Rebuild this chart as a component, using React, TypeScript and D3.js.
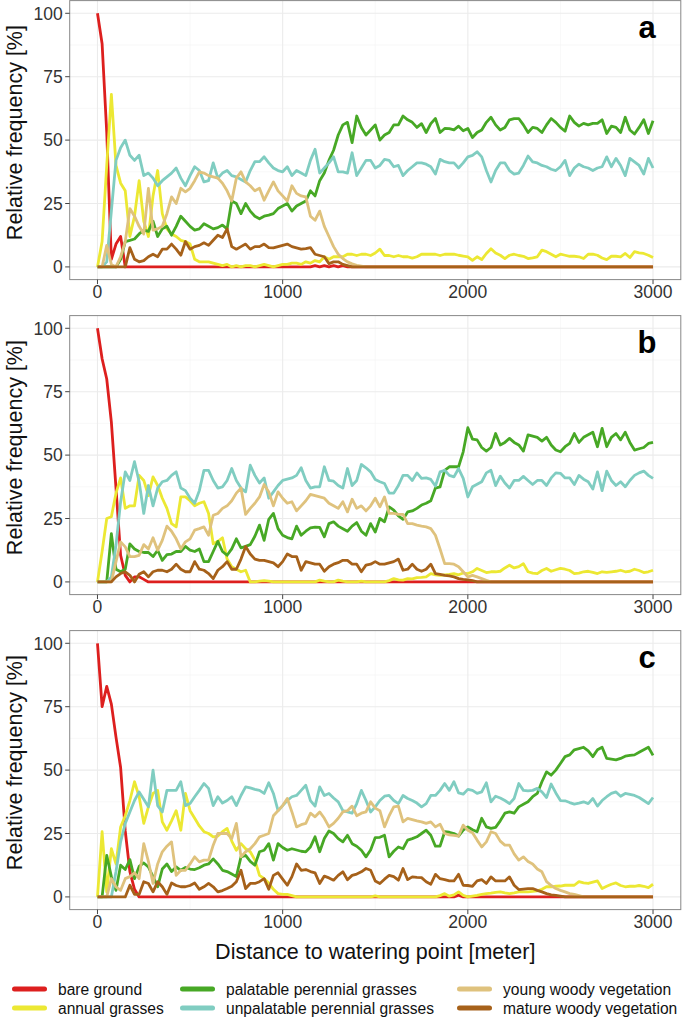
import React, { useEffect, useRef } from 'react';
import * as d3 from 'd3';

// distance classes every 25 m
const distances = d3.range(0, 3001, 25);

const seriesNames = [
  'bare ground',
  'annual grasses',
  'palatable perennial grasses',
  'unpalatable perennial grasses',
  'young woody vegetation',
  'mature woody vegetation',
];
const seriesColors = ['#dd1f1e', '#ece833', '#47a825', '#80cdc1', '#dfc27d', '#a6611a'];

const yTicks = [0, 25, 50, 75, 100];
const yMinor = [12.5, 37.5, 62.5, 87.5];
const xTicks = [0, 1000, 2000, 3000];
const xMinor = [500, 1500, 2500];
const panelLabels = ['a', 'b', 'c'];

// ---- panel a
const bareA = [
  100, 88, 53, 3, 9, 12, 0, 0, 0, 0,
  0, 0, 0, 0, 0, 0, 0, 0, 0, 0,
  0, 0, 0, 0, 0, 0, 0, 0, 0, 0,
  0, 0, 0, 0, 0, 0, 0, 0, 0, 0,
  0, 0, 0, 0, 0, 0, 0, 0.5, 0, 0.5,
  0, 0.5, 0, 0.5, 0, 0, 0, 0, 0, 0,
  0, 0, 0, 0, 0, 0, 0, 0, 0, 0,
  0, 0, 0, 0, 0, 0, 0, 0, 0, 0,
  0, 0, 0, 0, 0, 0, 0, 0, 0, 0,
  0, 0, 0, 0, 0, 0, 0, 0, 0, 0,
  0, 0, 0, 0, 0, 0, 0, 0, 0, 0,
  0, 0, 0, 0, 0, 0, 0, 0, 0, 0,
  0,
];
const annualA = [
  0, 10, 40, 68, 40, 33, 30, 12, 20, 34,
  18, 12, 28, 38, 21, 15, 13, 12, 10.5, 10,
  9, 3, 2, 2, 2, 1.5, 1, 0.5, 1, 0,
  0.5, 0, 0.5, 0.5, 0, 0.5, 1, 0.5, 0, 0.5,
  1, 1, 1.5, 1.5, 1, 2, 1.5, 2.5, 2, 4,
  3, 4, 4, 4, 5, 5, 4.5, 5, 5, 4.5,
  5.5, 7, 4.5, 4.5, 4, 4.5, 4, 4, 3.5, 4,
  5, 5, 5, 5, 4.5, 5, 5, 5, 4.6, 4.3,
  4, 2.6, 4, 2.9, 5.3, 7.2, 5.5, 4.6, 3.3, 4.6,
  5, 4.5, 4.2, 3.3, 3.6, 4, 6.6, 6, 5, 4,
  5, 4.6, 4.2, 4.2, 4, 3.3, 5, 5, 4.6, 3.5,
  2.9, 4.2, 4.2, 4, 5.3, 3.7, 6, 5.5, 5.3, 4.6,
  3.7,
];
const palatableA = [
  0, 0, 0, 0, 0, 3, 10, 10.5, 11, 13,
  14.5, 14, 18, 12, 15, 16, 12.5, 16, 20, 18,
  16, 14.5, 15, 17, 16, 15, 15.5, 16.5, 15, 26,
  25, 21, 25, 22, 20, 19, 20, 20.4, 21, 23,
  24, 25, 22, 24, 25, 26, 30, 28, 34, 37,
  42, 46, 52, 56, 57, 49, 59.5, 55, 52, 54,
  56, 50, 52, 53, 56, 56, 59.5, 58, 57, 55,
  56.5, 53, 56.5, 58.5, 53, 54.6, 54.5, 54, 55.5, 53.7,
  54.6, 51, 53, 54, 57, 59, 56, 54, 55, 58,
  58.5, 58.5, 56, 53, 55, 54.6, 53, 56, 58.5, 57,
  55, 53.5, 59.5, 57, 55.5, 56.6, 56, 56.6, 56.6, 58,
  52.6, 55.5, 55, 53, 59, 54, 52.4, 55, 58, 52.6,
  57.6,
];
const unpalatableA = [
  0, 0, 2, 22, 42, 47, 50, 44, 42, 44,
  36, 37, 35, 32, 34, 35.5, 37, 39, 35, 32,
  36, 39.5, 38, 33.5, 34, 41, 35, 37, 38, 36,
  35.5, 34.5, 33.5, 38, 41.5, 41.5, 43.4, 41, 39, 38,
  37.5, 39.5, 36, 38, 37, 36, 42, 46.4, 37, 39,
  41, 43.4, 37.5, 37.5, 37, 45, 36, 39, 42, 42,
  39, 40, 42.4, 42, 39.5, 40, 36, 38, 39.5, 41,
  41, 40.5, 39.5, 36.6, 42.4, 41.5, 41, 41, 39, 41,
  43.4, 44, 45.4, 43.4, 38, 33.5, 38, 41, 41, 38,
  36.6, 37, 40, 43.7, 41.4, 41, 40, 39.5, 38.5, 38,
  39.5, 42, 36, 39, 40.5, 39.5, 39, 38, 39, 39.5,
  43.4, 39.5, 42.8, 40, 36, 42.8, 41.4, 40, 36.6, 42.8,
  39,
];
const youngA = [
  0, 0, 8.5, 1, 0, 4, 10, 23, 20, 16,
  13, 31, 14.5, 15, 16, 21, 27.6, 25, 31, 29.6,
  31, 34, 37.5, 37, 36, 35.5, 35, 33, 30, 26,
  35, 37.5, 33.5, 32, 30, 31, 26.3, 30, 33.5, 30,
  28, 26, 32, 29, 28, 27.6, 20, 18.4, 22, 16,
  12, 8, 5, 3.3, 2, 1.2, 0.6, 0.3, 0, 0,
  0, 0, 0, 0, 0, 0, 0, 0, 0, 0,
  0, 0, 0, 0, 0, 0, 0, 0, 0, 0,
  0, 0, 0, 0, 0, 0, 0, 0, 0, 0,
  0, 0, 0, 0, 0, 0, 0, 0, 0, 0,
  0, 0, 0, 0, 0, 0, 0, 0, 0, 0,
  0, 0, 0, 0, 0, 0, 0, 0, 0, 0,
  0,
];
const matureA = [
  0, 0, 0, 0, 0, 0, 0, 7.6, 3, 2,
  2.5, 4, 5, 4, 7, 7, 9, 7, 4.6, 10,
  7, 8, 8.5, 9.5, 8.5, 10.5, 12.5, 11.6, 15, 8,
  7, 8, 9, 7, 8, 8, 9, 7.6, 7.5, 8,
  8.5, 9, 8, 7.5, 7, 7.2, 7.6, 5, 4.5, 4,
  1.3, 2, 2, 1, 0.5, 0, 0, 0, 0, 0,
  0, 0, 0, 0, 0, 0, 0, 0, 0, 0,
  0, 0, 0, 0, 0, 0, 0, 0, 0, 0,
  0, 0, 0, 0, 0, 0, 0, 0, 0, 0,
  0, 0, 0, 0, 0, 0, 0, 0, 0, 0,
  0, 0, 0, 0, 0, 0, 0, 0, 0, 0,
  0, 0, 0, 0, 0, 0, 0, 0, 0, 0,
  0,
];

// ---- panel b
const bareB = [
  100, 88, 80, 63, 37, 10.5, 2.6, 0, 2, 2,
  1, 0, 0, 0, 0, 0, 0, 0, 0, 0,
  0, 0, 0, 0, 0, 0, 0, 0, 0, 0,
  0, 0, 0, 0, 0, 0, 0, 0, 0, 0,
  0, 0, 0, 0, 0, 0, 0, 0, 0, 0,
  0, 0, 0, 0, 0, 0, 0, 0, 0, 0,
  0, 0, 0, 0, 0, 0, 0, 0, 0, 0,
  0, 0, 0, 0, 0, 0, 0, 0, 0, 0,
  0, 0, 0, 0, 0, 0, 0, 0, 0, 0,
  0, 0, 0, 0, 0, 0, 0, 0, 0, 0,
  0, 0, 0, 0, 0, 0, 0, 0, 0, 0,
  0, 0, 0, 0, 0, 0, 0, 0, 0, 0,
  0,
];
const annualB = [
  0, 12, 25, 25.7, 35, 41, 29, 30, 30, 42,
  40, 34, 41.4, 38, 33, 29, 23, 21.7, 33.5, 33.5,
  32, 30, 31, 31.6, 27, 15, 16, 17.4, 9, 6,
  5, 4, 4.6, 0, 0, 0.3, 0.5, 0.3, 0, 0,
  0, 0, 0, 0, 0, 0, 0, 0, 0.7, 0.3,
  0, 0, 0.7, 0.3, 0, 0, 0, 0.3, 0, 0,
  0, 0, 0, 0.5, 1.3, 0.8, 0.7, 1.3, 1.2, 1.7,
  1.8, 2, 3.3, 2.8, 2.6, 2.8, 3, 3.3, 2.8, 3.5,
  3.3, 4, 5.3, 4.5, 3.7, 4, 4, 4.2, 5.5, 6.6,
  5.5, 6, 7.2, 4, 3.5, 3.3, 4.5, 5.3, 4.2, 4.8,
  5.3, 5, 4.5, 3.3, 3.5, 4, 4.2, 3.8, 3.3, 4,
  3.8, 4, 4.2, 4.6, 4, 4.2, 5, 4.5, 3.7, 4,
  4.6,
];
const palatableB = [
  0, 0, 0, 19, 5, 4, 5, 15, 13, 12,
  11.6, 11.6, 10, 12.5, 8.5, 10.8, 11, 12, 12, 14,
  12.5, 12, 13, 8, 8, 12, 16, 12, 10.5, 13,
  17, 13.4, 14, 14.7, 18, 22.4, 16.4, 24.7, 27, 21,
  18.4, 17.5, 17, 22, 18.4, 20, 21.3, 21.6, 21.5, 17.8,
  23, 23.7, 22, 21, 20, 22, 23.4, 20, 18.4, 23,
  19.7, 25, 23.7, 29.6, 28.3, 26, 24.7, 27.6, 28, 29,
  30.3, 31, 32, 37, 37.5, 44, 45.4, 45.4, 45.4, 51.3,
  60.8, 56.3, 56, 53, 51.6, 53, 58.5, 54, 55, 56.6,
  55, 54, 51.6, 58, 57.5, 57, 55.5, 57, 54, 52,
  51.3, 53.3, 54.6, 58.5, 55, 57, 58, 59, 53.3, 60.5,
  53.3, 57, 58.5, 56, 59, 55, 52, 52.5, 53, 54.6,
  55,
];
const unpalatableB = [
  0, 0, 0, 2, 14.5, 31.6, 43.4, 40, 47.4, 39.5,
  27, 38, 30, 37, 39.5, 40, 42, 43.4, 37, 36,
  33, 31, 36, 44, 44, 40, 37, 37.5, 40, 44.7,
  40, 37, 35.5, 46, 42, 39, 41, 33, 35.5, 38,
  40, 40.5, 41, 42, 45, 40, 37, 37.5, 37.5, 45.4,
  40, 39.7, 38, 37, 44.7, 38, 40, 46.3, 45, 43.4,
  40.4, 39.5, 38.8, 35, 35, 38, 42, 42, 40, 43,
  40.8, 41, 40.4, 37.8, 43.4, 44, 42, 41.4, 44.7, 40.8,
  33.5, 37.5, 38.5, 39.5, 43, 44, 38, 41.7, 39, 37,
  40, 40, 41.6, 40, 38.4, 40, 40, 38, 41, 43,
  42.8, 41, 41, 38.4, 42, 40.5, 39.5, 36.6, 43.4, 36,
  43.7, 40, 38, 39.5, 37.5, 40, 42, 43, 43.7, 42,
  40.8,
];
const youngB = [
  0, 0, 0, 0, 8, 15.8, 13.8, 10, 10, 10.5,
  14.7, 13, 17.4, 12.5, 16.4, 22, 20, 17, 13, 15.8,
  17, 20.4, 21, 21.7, 18.4, 26.3, 27, 29, 30, 32,
  35, 37, 26.6, 29, 31, 33.5, 38.4, 35.5, 30, 35.5,
  33, 31, 31.6, 28, 30, 32, 34.5, 34, 33.5, 33,
  31, 30, 29, 31.6, 27.6, 32.6, 29, 30, 28, 30,
  33, 29.6, 33.5, 27, 27, 26.6, 26.6, 23, 23, 22.4,
  22, 21.7, 21, 18.4, 13, 7.2, 7.2, 7, 6, 4,
  2, 2.6, 2, 1.3, 0.6, 0, 0, 0, 0, 0,
  0, 0, 0, 0, 0, 0, 0, 0, 0, 0,
  0, 0, 0, 0, 0, 0, 0, 0, 0, 0,
  0, 0, 0, 0, 0, 0, 0, 0, 0, 0,
  0,
];
const matureB = [
  0, 0, 0, 0, 2, 3.3, 4, 2.6, 0, 3,
  4, 2, 4, 4.6, 4.6, 4, 5, 7, 5, 4,
  4, 8, 5, 4.6, 3.3, 1.3, 4.6, 6, 8, 5,
  5, 9, 14, 11, 9, 8.5, 8.5, 8, 7.5, 6,
  8, 11, 10, 10, 4.6, 8, 7.5, 7, 7, 4.2,
  6, 7, 7.6, 8.5, 8.5, 7, 7, 4, 6.6, 7,
  8, 7, 7, 7.5, 8, 9, 4.6, 5, 7, 5,
  4.2, 5, 7, 3.3, 3, 2.6, 2.4, 2, 1.3, 1,
  0.8, 0.5, 0, 0, 0, 0, 0, 0, 0, 0,
  0, 0, 0, 0, 0, 0, 0, 0, 0, 0,
  0, 0, 0, 0, 0, 0, 0, 0, 0, 0,
  0, 0, 0, 0, 0, 0, 0, 0, 0, 0,
  0,
];

// ---- panel c
const bareC = [
  100, 75, 83, 76, 63, 51, 26, 10, 3, 0,
  0, 0, 0, 0, 0, 0, 0, 0, 0, 0,
  0, 0, 0, 0, 0, 0, 0, 0, 0, 0,
  0, 0, 0, 0, 0, 0, 0, 0, 0, 0,
  0, 0, 0, 0, 0, 0, 0, 0, 0, 0,
  0, 0, 0, 0, 0, 0, 0, 0, 0, 0,
  0, 0, 0, 0, 0, 0, 0, 0, 0, 0,
  0, 0, 0, 0, 0, 0, 0, 0, 0.7, 0,
  0, 0, 0, 0, 0, 0, 0, 0, 0, 0,
  0, 0, 0, 0, 0, 0, 0, 0, 0, 0,
  0, 0, 0, 0, 0, 0, 0, 0, 0, 0,
  0, 0, 0, 0, 0, 0, 0, 0, 0, 0,
  0,
];
const annualC = [
  0, 25.7, 2, 19, 13, 27.6, 32, 38, 45.4, 39.5,
  29, 35.5, 40.8, 42, 29.6, 26.3, 30, 34, 26.3, 40.8,
  34, 31, 28, 25.7, 25, 23.7, 24, 25.7, 27, 22,
  18.4, 21, 19, 17.8, 14.5, 8.5, 7.2, 5.5, 3, 1.3,
  1, 1, 0.5, 0, 0, 0, 0, 0, 0, 0,
  0, 0, 0, 0, 0, 0, 0, 0, 0, 0,
  0.4, 0, 0, 0, 0, 0, 0, 0, 0, 0,
  0, 0, 0, 0, 0.5, 1.3, 0.3, 0.8, 2, 0.6,
  0, 0.3, 0.6, 1, 1.3, 1.5, 1.8, 2, 1.6, 1.3,
  1.6, 2, 2, 2, 2.2, 2.4, 3, 4, 4, 4.2,
  4.3, 4.6, 4.6, 4.6, 6, 5.5, 5.3, 5.8, 6.3, 3.3,
  4.2, 5, 5.5, 4.5, 4, 4.2, 4.2, 4.5, 4.2, 3.7,
  5,
];
const palatableC = [
  0, 0, 16.4, 8, 2.6, 12.5, 10.8, 14.7, 7.2, 12,
  13.4, 11.8, 8, 4, 11, 13, 10, 11.8, 10.5, 11.6,
  11, 10.8, 11.5, 12.5, 13, 15, 13, 10.5, 10, 9,
  8, 15.8, 16.4, 14, 12.5, 17.8, 18.4, 21, 14.5, 21,
  19.5, 18.4, 19, 18.5, 18, 17.8, 19.7, 23.7, 17.8, 23,
  26, 25, 23, 21.7, 24.3, 21, 20, 18.4, 15.8, 18.5,
  23.4, 23.5, 24.3, 15.8, 18, 19.7, 19, 22.4, 23, 23.7,
  25, 26.3, 24.3, 20, 20, 25.7, 25.5, 25, 24, 26.3,
  27.6, 26.5, 25.7, 31, 27.6, 27, 27.4, 30, 33, 33.5,
  33, 35.5, 36.5, 37.5, 39.5, 40.8, 45.4, 49.3, 48, 50,
  52.6, 55.3, 56, 58, 58.5, 59, 57.6, 55.3, 58, 59,
  54.6, 54.3, 54, 54.6, 55.5, 55.8, 56, 57, 58, 59,
  55.8,
];
const unpalatableC = [
  0, 0, 0, 0, 10, 21.7, 29, 33.5, 38, 41.4,
  38.5, 35.5, 50, 36, 33.5, 42, 42, 42, 45.4, 36,
  36.8, 39.5, 42, 44.7, 42.8, 36, 39.5, 37, 38, 39.5,
  36, 40, 43.4, 43, 42.4, 42, 40.8, 45, 40.8, 34,
  36, 38, 39.5, 40, 42, 44, 38, 35.8, 43.4, 40,
  40.8, 39, 37.5, 34, 33.5, 33, 36.8, 42, 38, 33.5,
  35.5, 38, 39.7, 40, 38, 36.8, 40, 38.8, 38, 37,
  35.5, 36.8, 40, 40, 42, 44.7, 42, 45.4, 41, 40.5,
  42.4, 42, 40.8, 41.4, 45, 37.5, 39.7, 39, 38, 36.8,
  38.8, 44.7, 42, 41.8, 42, 42.8, 41.4, 39.2, 44.5, 41,
  38, 37.9, 37.2, 36.6, 37, 37.5, 36.8, 38.8, 35.8, 38,
  39.5, 40.8, 41.4, 39.7, 40.8, 40.4, 40, 39.2, 38, 36.8,
  39.2,
];
const youngC = [
  0, 0, 0, 7.2, 4, 2.6, 7.2, 8, 9.5, 7.2,
  21, 14, 5.3, 13, 17.8, 20, 21.7, 8.5, 10.5, 10.5,
  13, 15.8, 13.8, 14.5, 14.5, 20.4, 25, 25, 25, 23,
  29, 15.8, 17.8, 19, 21, 23.7, 24.3, 25, 32, 34,
  36, 38.8, 33.5, 27.6, 28.5, 29, 33, 31.6, 33.5, 31,
  27.6, 29, 31, 33.5, 34, 35.8, 32, 33, 33.5, 37.5,
  35, 34, 27.6, 32, 35.5, 35.8, 29.6, 31, 30.5, 30,
  29.6, 29, 29.6, 27.6, 28.7, 25, 24.5, 24.3, 24, 28.3,
  26.3, 25.3, 22.4, 19.7, 21.7, 25.7, 25, 22, 20.4, 20.4,
  17, 14.5, 15.8, 14, 13, 11, 9.9, 6, 4.5, 3.3,
  2.6, 2, 1.3, 1, 0.5, 0, 0, 0, 0, 0,
  0, 0, 0, 0, 0, 0, 0, 0, 0, 0,
  0,
];
const matureC = [
  0, 0, 0, 0, 0, 0, 0, 4.6, 1, 1,
  6, 5.3, 2, 6, 4, 1, 5.5, 4.5, 4, 4,
  4.5, 5.5, 3, 4, 5.3, 4, 2, 2.5, 3.3, 4.2,
  6, 10.5, 3.3, 5.3, 5.3, 6, 7.2, 3, 8.5, 9.5,
  7, 4.6, 8, 13, 10.5, 10.8, 10, 9.5, 5.3, 8.2,
  7.5, 6.6, 8.5, 9.9, 6.8, 8.5, 9, 9.9, 11.2, 10.5,
  6.3, 5.3, 7, 8.5, 8, 6.6, 11.2, 6.8, 7.9, 7.7,
  7.6, 6, 5, 8.9, 7.2, 6.8, 6.3, 6.3, 8.9, 4.6,
  4.5, 4.2, 6.3, 6.8, 5.3, 7.9, 6.3, 6.3, 6.3, 7.9,
  4.6, 2.9, 3.1, 3.3, 3.3, 2.6, 2, 1.3, 0.8, 0.6,
  0.3, 0, 0, 0, 0, 0, 0, 0, 0, 0,
  0, 0, 0, 0, 0, 0, 0, 0, 0, 0,
  0,
];

const panelSeries = [
  [bareA, annualA, palatableA, unpalatableA, youngA, matureA],
  [bareB, annualB, palatableB, unpalatableB, youngB, matureB],
  [bareC, annualC, palatableC, unpalatableC, youngC, matureC],
];

const W = 685;
const H = 1020;
const FONT = "'Liberation Sans', Arial, Helvetica, sans-serif";

const Chart = () => {
  const svgRef = useRef(null);

  const draw = () => {
    const svg = d3.select(svgRef.current);
    svg.selectAll('*').remove();

    const plotLeft = 69.7;
    const plotRight = 680.8;
    const panelH = 279;
    const panelTops = [0.6, 315.6, 630.6];

    // ggplot style 5% expansion
    const x = d3.scaleLinear().domain([-150, 3150]).range([plotLeft, plotRight]);
    const y = d3.scaleLinear().domain([-5, 105]).range([panelH, 0]);

    const line = d3.line()
      .x((d, i) => x(distances[i]))
      .y(d => y(d));

    panelSeries.forEach((series, p) => {
      const g = svg.append('g').attr('transform', `translate(0,${panelTops[p]})`);

      // minor grid
      g.selectAll('.ymin').data(yMinor).enter().append('line')
        .attr('x1', plotLeft).attr('x2', plotRight)
        .attr('y1', d => y(d)).attr('y2', d => y(d))
        .attr('stroke', '#f3f3f3').attr('stroke-width', 0.6);
      g.selectAll('.xmin').data(xMinor).enter().append('line')
        .attr('y1', 0).attr('y2', panelH)
        .attr('x1', d => x(d)).attr('x2', d => x(d))
        .attr('stroke', '#f3f3f3').attr('stroke-width', 0.6);
      // major grid
      g.selectAll('.ymaj').data(yTicks).enter().append('line')
        .attr('x1', plotLeft).attr('x2', plotRight)
        .attr('y1', d => y(d)).attr('y2', d => y(d))
        .attr('stroke', '#ebebeb').attr('stroke-width', 1.1);
      g.selectAll('.xmaj').data(xTicks).enter().append('line')
        .attr('y1', 0).attr('y2', panelH)
        .attr('x1', d => x(d)).attr('x2', d => x(d))
        .attr('stroke', '#ebebeb').attr('stroke-width', 1.1);

      // series lines
      series.forEach((vals, s) => {
        g.append('path')
          .attr('d', line(vals))
          .attr('fill', 'none')
          .attr('stroke', seriesColors[s])
          .attr('stroke-width', 2.8)
          .attr('stroke-linejoin', 'round')
          .attr('stroke-linecap', 'butt');
      });

      // border
      g.append('rect')
        .attr('x', plotLeft).attr('y', 0)
        .attr('width', plotRight - plotLeft).attr('height', panelH)
        .attr('fill', 'none').attr('stroke', '#888').attr('stroke-width', 1);

      // y axis
      g.selectAll('.ytick').data(yTicks).enter().append('line')
        .attr('x1', plotLeft - 4.5).attr('x2', plotLeft)
        .attr('y1', d => y(d)).attr('y2', d => y(d))
        .attr('stroke', '#444').attr('stroke-width', 1);
      g.selectAll('.ylab').data(yTicks).enter().append('text')
        .attr('x', plotLeft - 7).attr('y', d => y(d) + 6.3)
        .attr('text-anchor', 'end')
        .style('font-family', FONT).style('font-size', '17.5px')
        .attr('fill', '#333')
        .text(d => d);

      // x axis
      g.selectAll('.xtick').data(xTicks).enter().append('line')
        .attr('x1', d => x(d)).attr('x2', d => x(d))
        .attr('y1', panelH).attr('y2', panelH + 4.5)
        .attr('stroke', '#444').attr('stroke-width', 1);
      g.selectAll('.xlab').data(xTicks).enter().append('text')
        .attr('x', d => x(d)).attr('y', panelH + 18.5)
        .attr('text-anchor', 'middle')
        .style('font-family', FONT).style('font-size', '17.5px')
        .attr('fill', '#333')
        .text(d => d);

      // y title
      g.append('text')
        .attr('transform', `translate(22,132) rotate(-90)`)
        .attr('text-anchor', 'middle')
        .style('font-family', FONT).style('font-size', '21.5px')
        .attr('fill', '#111')
        .text('Relative frequency [%]');

      // panel letter
      g.append('text')
        .attr('x', 647).attr('y', 37)
        .attr('text-anchor', 'middle')
        .style('font-family', FONT).style('font-size', '31px').style('font-weight', 'bold')
        .attr('fill', '#000')
        .text(panelLabels[p]);
    });

    // x title
    svg.append('text')
      .attr('x', (plotLeft + plotRight) / 2).attr('y', 959)
      .attr('text-anchor', 'middle')
      .style('font-family', FONT).style('font-size', '21.5px')
      .attr('fill', '#111')
      .text('Distance to watering point [meter]');

    // legend, filled by column
    const colKeyX = [14.5, 182.5, 459.5];
    const colTextX = [58, 226, 503];
    const rowY = [989, 1008];
    const leg = svg.append('g');
    seriesNames.forEach((name, i) => {
      const col = Math.floor(i / 2);
      const row = i % 2;
      leg.append('line')
        .attr('x1', colKeyX[col]).attr('x2', colKeyX[col] + 30)
        .attr('y1', rowY[row]).attr('y2', rowY[row])
        .attr('stroke', seriesColors[i]).attr('stroke-width', 5)
        .attr('stroke-linecap', 'round');
      leg.append('text')
        .attr('x', colTextX[col]).attr('y', rowY[row] + 6)
        .style('font-family', FONT).style('font-size', '15.6px')
        .attr('fill', '#111')
        .text(name);
    });
  };

  useEffect(() => {
    draw();
  }, []);

  return (
    <svg ref={svgRef} width={W} height={H}
      style={{ position: 'absolute', left: 0, top: 0, background: '#fff' }} />
  );
};

export default function App() {
  return <Chart />;
}
